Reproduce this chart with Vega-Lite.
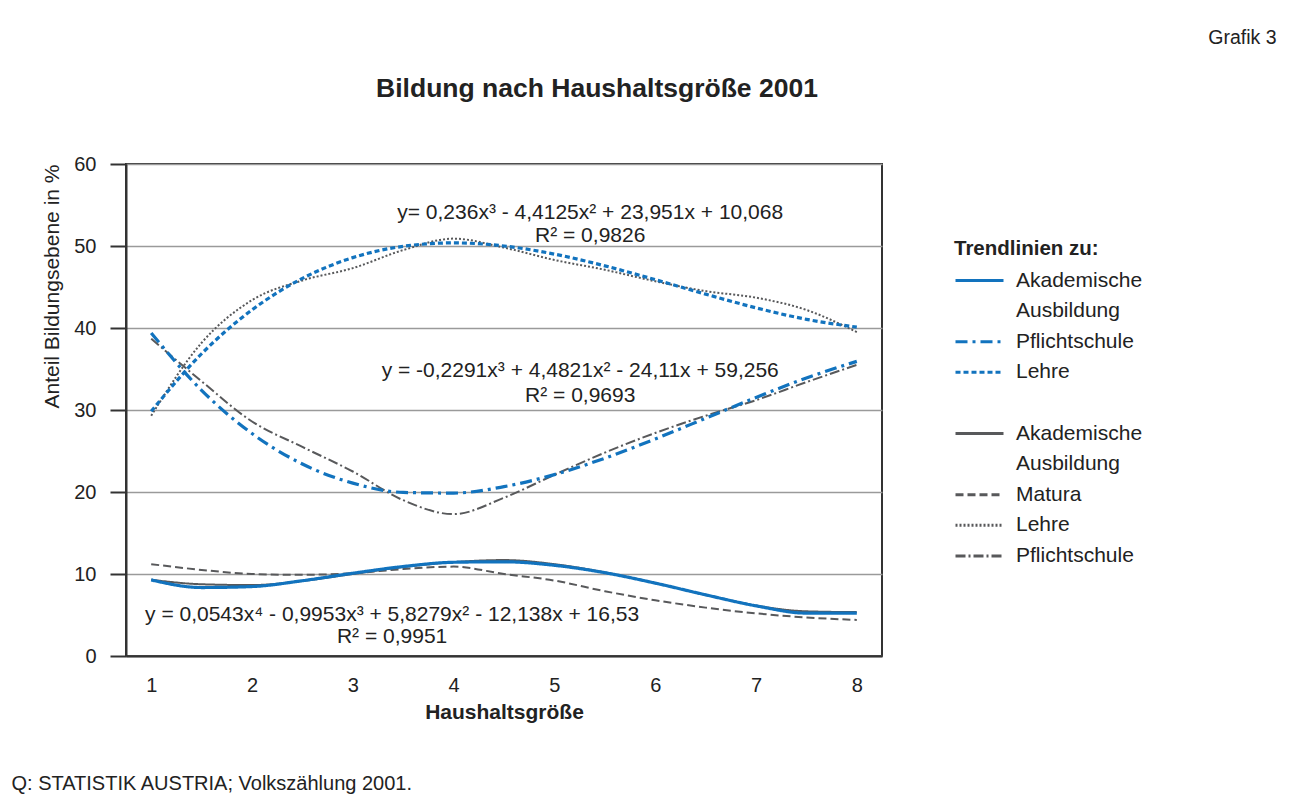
{
  "$schema": "https://vega.github.io/schema/vega-lite/v6.json",
  "width": 756,
  "height": 492,
  "autosize": {"type": "none"},
  "padding": {"left": 126, "top": 164, "right": 411, "bottom": 139},
  "background": "white",
  "title": {"text": "Bildung nach Haushaltsgröße 2001", "anchor": "middle", "frame": "group", "dx": 93, "offset": -96, "baseline": "alphabetic", "font": "Liberation Sans", "fontSize": 26.5, "fontWeight": "bold", "color": "#222222"},
  "config": {
    "view": {"stroke": "#333333", "strokeWidth": 2},
    "font": "Liberation Sans",
    "axis": {"labelFont": "Liberation Sans", "titleFont": "Liberation Sans", "labelColor": "#222222", "titleColor": "#222222"},
    "legend": {"labelFont": "Liberation Sans", "titleFont": "Liberation Sans"}
  },
  "datasets": {
    "trend": [
      {"h": 1, "v": 9.28, "s": "T-Akademische"}, {"h": 1.5, "v": 8.35, "s": "T-Akademische"}, {"h": 2, "v": 8.47, "s": "T-Akademische"}, {"h": 2.5, "v": 9.18, "s": "T-Akademische"}, {"h": 3, "v": 10.09, "s": "T-Akademische"}, {"h": 3.5, "v": 10.91, "s": "T-Akademische"}, {"h": 4, "v": 11.43, "s": "T-Akademische"}, {"h": 4.5, "v": 11.49, "s": "T-Akademische"}, {"h": 5, "v": 11.06, "s": "T-Akademische"}, {"h": 5.5, "v": 10.16, "s": "T-Akademische"}, {"h": 6, "v": 8.89, "s": "T-Akademische"}, {"h": 6.5, "v": 7.46, "s": "T-Akademische"}, {"h": 7, "v": 6.12, "s": "T-Akademische"}, {"h": 7.5, "v": 5.23, "s": "T-Akademische"}, {"h": 8, "v": 5.23, "s": "T-Akademische"},
      {"h": 1, "v": 39.4, "s": "T-Pflichtschule"}, {"h": 1.5, "v": 32.4, "s": "T-Pflichtschule"}, {"h": 2, "v": 27.13, "s": "T-Pflichtschule"}, {"h": 2.5, "v": 23.41, "s": "T-Pflichtschule"}, {"h": 3, "v": 21.08, "s": "T-Pflichtschule"}, {"h": 3.5, "v": 19.95, "s": "T-Pflichtschule"}, {"h": 4, "v": 19.87, "s": "T-Pflichtschule"}, {"h": 4.5, "v": 20.65, "s": "T-Pflichtschule"}, {"h": 5, "v": 22.12, "s": "T-Pflichtschule"}, {"h": 5.5, "v": 24.12, "s": "T-Pflichtschule"}, {"h": 6, "v": 26.47, "s": "T-Pflichtschule"}, {"h": 6.5, "v": 28.99, "s": "T-Pflichtschule"}, {"h": 7, "v": 31.53, "s": "T-Pflichtschule"}, {"h": 7.5, "v": 33.9, "s": "T-Pflichtschule"}, {"h": 8, "v": 35.93, "s": "T-Pflichtschule"},
      {"h": 1, "v": 29.84, "s": "T-Lehre"}, {"h": 1.5, "v": 36.86, "s": "T-Lehre"}, {"h": 2, "v": 42.21, "s": "T-Lehre"}, {"h": 2.5, "v": 46.05, "s": "T-Lehre"}, {"h": 3, "v": 48.58, "s": "T-Lehre"}, {"h": 3.5, "v": 49.96, "s": "T-Lehre"}, {"h": 4, "v": 50.38, "s": "T-Lehre"}, {"h": 4.5, "v": 50.0, "s": "T-Lehre"}, {"h": 5, "v": 49.01, "s": "T-Lehre"}, {"h": 5.5, "v": 47.58, "s": "T-Lehre"}, {"h": 6, "v": 45.9, "s": "T-Lehre"}, {"h": 6.5, "v": 44.13, "s": "T-Lehre"}, {"h": 7, "v": 42.46, "s": "T-Lehre"}, {"h": 7.5, "v": 41.06, "s": "T-Lehre"}, {"h": 8, "v": 40.11, "s": "T-Lehre"}
    ],
    "actual": [
      {"h": 1, "v": 9.3, "s": "Akademische"}, {"h": 1.5, "v": 8.75, "s": "Akademische"}, {"h": 2, "v": 8.65, "s": "Akademische"}, {"h": 2.5, "v": 9.15, "s": "Akademische"}, {"h": 3, "v": 10.0, "s": "Akademische"}, {"h": 3.5, "v": 10.85, "s": "Akademische"}, {"h": 4, "v": 11.45, "s": "Akademische"}, {"h": 4.5, "v": 11.7, "s": "Akademische"}, {"h": 5, "v": 11.2, "s": "Akademische"}, {"h": 5.5, "v": 10.2, "s": "Akademische"}, {"h": 6, "v": 8.9, "s": "Akademische"}, {"h": 6.5, "v": 7.45, "s": "Akademische"}, {"h": 7, "v": 6.15, "s": "Akademische"}, {"h": 7.5, "v": 5.45, "s": "Akademische"}, {"h": 8, "v": 5.35, "s": "Akademische"},
      {"h": 1, "v": 11.2, "s": "Matura"}, {"h": 1.5, "v": 10.5, "s": "Matura"}, {"h": 2, "v": 10.0, "s": "Matura"}, {"h": 2.5, "v": 9.9, "s": "Matura"}, {"h": 3, "v": 10.1, "s": "Matura"}, {"h": 3.5, "v": 10.6, "s": "Matura"}, {"h": 4, "v": 10.9, "s": "Matura"}, {"h": 4.5, "v": 10.0, "s": "Matura"}, {"h": 5, "v": 9.2, "s": "Matura"}, {"h": 5.5, "v": 7.9, "s": "Matura"}, {"h": 6, "v": 6.8, "s": "Matura"}, {"h": 6.5, "v": 5.9, "s": "Matura"}, {"h": 7, "v": 5.2, "s": "Matura"}, {"h": 7.5, "v": 4.7, "s": "Matura"}, {"h": 8, "v": 4.4, "s": "Matura"},
      {"h": 1, "v": 29.3, "s": "Lehre"}, {"h": 1.5, "v": 38.2, "s": "Lehre"}, {"h": 2, "v": 43.4, "s": "Lehre"}, {"h": 2.5, "v": 45.8, "s": "Lehre"}, {"h": 3, "v": 47.3, "s": "Lehre"}, {"h": 3.5, "v": 49.5, "s": "Lehre"}, {"h": 4, "v": 50.9, "s": "Lehre"}, {"h": 4.5, "v": 49.8, "s": "Lehre"}, {"h": 5, "v": 48.3, "s": "Lehre"}, {"h": 5.5, "v": 47.1, "s": "Lehre"}, {"h": 6, "v": 45.7, "s": "Lehre"}, {"h": 6.5, "v": 44.5, "s": "Lehre"}, {"h": 7, "v": 43.7, "s": "Lehre"}, {"h": 7.5, "v": 42.2, "s": "Lehre"}, {"h": 8, "v": 39.5, "s": "Lehre"},
      {"h": 1, "v": 38.7, "s": "Pflichtschule"}, {"h": 1.5, "v": 33.5, "s": "Pflichtschule"}, {"h": 2, "v": 28.6, "s": "Pflichtschule"}, {"h": 2.5, "v": 25.5, "s": "Pflichtschule"}, {"h": 3, "v": 22.5, "s": "Pflichtschule"}, {"h": 3.5, "v": 19.0, "s": "Pflichtschule"}, {"h": 4, "v": 17.3, "s": "Pflichtschule"}, {"h": 4.5, "v": 19.3, "s": "Pflichtschule"}, {"h": 5, "v": 22.1, "s": "Pflichtschule"}, {"h": 5.5, "v": 24.8, "s": "Pflichtschule"}, {"h": 6, "v": 27.2, "s": "Pflichtschule"}, {"h": 6.5, "v": 29.3, "s": "Pflichtschule"}, {"h": 7, "v": 31.2, "s": "Pflichtschule"}, {"h": 7.5, "v": 33.4, "s": "Pflichtschule"}, {"h": 8, "v": 35.5, "s": "Pflichtschule"}
    ],
    "eq": [
      {"h": 5.355, "v": 54.02, "t": "y= 0,236x³ - 4,4125x² + 23,951x + 10,068"},
      {"h": 5.355, "v": 51.22, "t": "R² = 0,9826"},
      {"h": 5.256, "v": 34.76, "t": "y = -0,2291x³ + 4,4821x² - 24,11x + 59,256"},
      {"h": 5.256, "v": 31.71, "t": "R² = 0,9693"},
      {"h": 3.39, "v": 5.06, "t": "y = 0,0543x⁴ - 0,9953x³ + 5,8279x² - 12,138x + 16,53"},
      {"h": 3.39, "v": 2.32, "t": "R² = 0,9951"}
    ]
  },
  "layer": [
    {
      "data": {"name": "actual"},
      "mark": {"type": "line", "interpolate": "monotone", "strokeWidth": 2},
      "encoding": {
        "x": {"field": "h", "type": "quantitative", "scale": {"domain": [0.75, 8.25], "nice": false, "zero": false},
          "axis": {"orient": "bottom", "values": [1, 2, 3, 4, 5, 6, 7, 8], "ticks": false, "grid": false, "labelPadding": 19, "labelFontSize": 20, "domainColor": "#333333", "domainWidth": 2, "title": "Haushaltsgröße", "titleFontSize": 21, "titleFontWeight": "bold", "titleY": 56, "titleBaseline": "middle"}},
        "y": {"field": "v", "type": "quantitative", "scale": {"domain": [0, 60], "nice": false},
          "axis": {"orient": "left", "values": [0, 10, 20, 30, 40, 50, 60], "tickSize": 16, "tickColor": "#333333", "tickWidth": 2, "labelPadding": 14, "labelFontSize": 20, "grid": true, "gridColor": "#9a9a9a", "gridWidth": 1.5, "domainColor": "#333333", "domainWidth": 2, "title": "Anteil Bildungsebene in %", "titleAngle": -90, "titleX": -74, "titleY": 0, "titleAlign": "right", "titleBaseline": "middle", "titleFontSize": 21, "titleFontWeight": "normal"}},
        "color": {"field": "s", "type": "nominal",
          "scale": {"domain": ["T-Akademische", "T-Ausbildung", "T-Pflichtschule", "T-Lehre", "gap", "Akademische", "Ausbildung", "Matura", "Lehre", "Pflichtschule"],
            "range": ["#1273be", "transparent", "#1273be", "#1273be", "transparent", "#58595b", "transparent", "#58595b", "#58595b", "#58595b"]},
          "legend": {"title": "Trendlinien zu:", "orient": "none", "legendX": 828, "legendY": 75, "padding": 0, "titleFontSize": 20.5, "titleFontWeight": "bold", "titleColor": "#222222", "titlePadding": 10, "labelFontSize": 21, "labelColor": "#222222", "labelOffset": 11, "labelLimit": 400, "labelExpr": "replace(replace(datum.label, 'T-', ''), 'gap', '')", "symbolType": "stroke", "symbolSize": 2304, "symbolStrokeWidth": 3, "clipHeight": 22, "rowPadding": 8.6}},
        "strokeDash": {"field": "s", "type": "nominal",
          "scale": {"domain": ["T-Akademische", "T-Ausbildung", "T-Pflichtschule", "T-Lehre", "gap", "Akademische", "Ausbildung", "Matura", "Lehre", "Pflichtschule"],
            "range": [[1, 0], [1, 0], [12, 5, 3, 5], [5, 3], [1, 0], [1, 0], [1, 0], [8, 4], [2, 2], [10, 3, 2, 3]]},
          "legend": {"title": "Trendlinien zu:", "orient": "none", "legendX": 828, "legendY": 75, "padding": 0, "titleFontSize": 20.5, "titleFontWeight": "bold", "titleColor": "#222222", "titlePadding": 10, "labelFontSize": 21, "labelColor": "#222222", "labelOffset": 11, "labelLimit": 400, "labelExpr": "replace(replace(datum.label, 'T-', ''), 'gap', '')", "symbolType": "stroke", "symbolSize": 2304, "symbolStrokeWidth": 3, "clipHeight": 22, "rowPadding": 8.6}}
      }
    },
    {
      "data": {"name": "trend"},
      "mark": {"type": "line", "interpolate": "monotone", "strokeWidth": 3.2},
      "encoding": {
        "x": {"field": "h", "type": "quantitative", "scale": {"domain": [0.75, 8.25], "nice": false, "zero": false},
          "axis": {"orient": "top", "labels": false, "ticks": false, "domain": false, "grid": false, "title": "Q: STATISTIK AUSTRIA; Volkszählung 2001.", "titleX": -115, "titleY": 619, "titleAngle": 0, "titleAlign": "left", "titleBaseline": "middle", "titleFontSize": 20, "titleFontWeight": "normal"}},
        "y": {"field": "v", "type": "quantitative", "scale": {"domain": [0, 60], "nice": false},
          "axis": {"orient": "right", "labels": false, "ticks": false, "domain": false, "grid": false, "title": "Grafik 3", "titleX": 394, "titleY": -127, "titleAngle": 0, "titleAlign": "right", "titleBaseline": "middle", "titleFontSize": 19.5, "titleFontWeight": "normal"}},
        "color": {"field": "s", "type": "nominal",
          "scale": {"domain": ["T-Akademische", "T-Ausbildung", "T-Pflichtschule", "T-Lehre", "gap", "Akademische", "Ausbildung", "Matura", "Lehre", "Pflichtschule"],
            "range": ["#1273be", "transparent", "#1273be", "#1273be", "transparent", "#58595b", "transparent", "#58595b", "#58595b", "#58595b"]}},
        "strokeDash": {"field": "s", "type": "nominal",
          "scale": {"domain": ["T-Akademische", "T-Ausbildung", "T-Pflichtschule", "T-Lehre", "gap", "Akademische", "Ausbildung", "Matura", "Lehre", "Pflichtschule"],
            "range": [[1, 0], [1, 0], [12, 5, 3, 5], [5, 3], [1, 0], [1, 0], [1, 0], [8, 4], [2, 2], [10, 3, 2, 3]]}}
      }
    },
    {
      "data": {"name": "eq"},
      "mark": {"type": "text", "align": "center", "baseline": "middle", "fontSize": 21, "font": "Liberation Sans", "color": "#222222"},
      "encoding": {
        "x": {"field": "h", "type": "quantitative", "scale": {"domain": [0.75, 8.25], "nice": false, "zero": false}, "axis": null},
        "y": {"field": "v", "type": "quantitative", "scale": {"domain": [0, 60], "nice": false}, "axis": null},
        "text": {"field": "t", "type": "nominal"}
      }
    }
  ],
  "resolve": {"axis": {"x": "independent", "y": "independent"}}
}
